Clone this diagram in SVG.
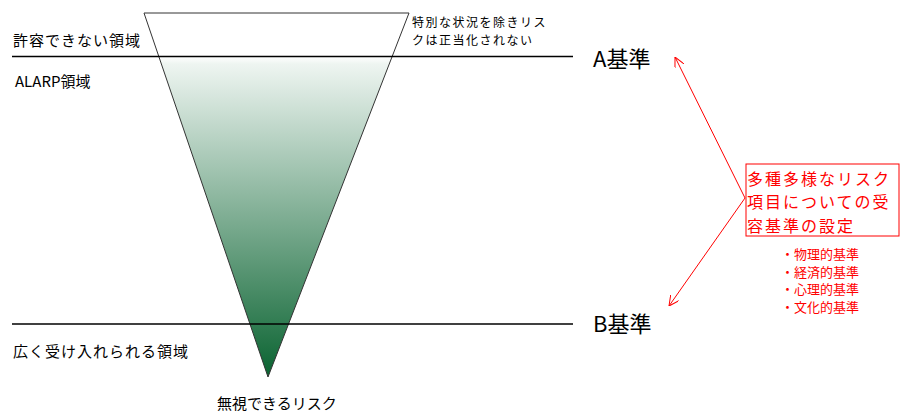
<svg xmlns="http://www.w3.org/2000/svg" width="901" height="413" viewBox="0 0 901 413">
<style>
.t{font-family:"Noto Sans CJK JP","Liberation Sans",sans-serif;fill:#000}
.r{font-family:"Noto Sans CJK JP","Liberation Sans",sans-serif;fill:#ff0000}
.ln{stroke:#000;stroke-width:1.3;fill:none}
.ra{stroke:#ff0000;stroke-width:1;fill:none;marker-end:url(#ah)}
</style>
<defs>
<linearGradient id="g" x1="0" y1="13" x2="0" y2="377" gradientUnits="userSpaceOnUse">
<stop offset="0" stop-color="#ffffff"/>
<stop offset="0.12" stop-color="#ffffff"/>
<stop offset="0.14" stop-color="#eef5f1"/>
<stop offset="1" stop-color="#0a6331"/>
</linearGradient>
<marker id="ah" viewBox="0 0 10 10" refX="10" refY="5" markerWidth="10" markerHeight="10" markerUnits="userSpaceOnUse" orient="auto">
<path d="M0,0 L10,5 L0,10" fill="none" stroke="#ff0000" stroke-width="1"/>
</marker>
</defs>
<g id="triangle">
<polygon points="144,13 409,13 268,377" fill="url(#g)" stroke="#333" stroke-width="1"/>
</g>
<g id="lines">
<line class="ln" x1="12" y1="56.5" x2="573" y2="56.5"/>
<line class="ln" x1="12" y1="324" x2="573" y2="324"/>
</g>
<g id="labels">
<text class="t" x="13" y="46" font-size="15" letter-spacing="1">許容できない領域</text>
<text class="t" x="15" y="87" font-size="15">ALARP領域</text>
<text class="t" x="13" y="357" font-size="15" letter-spacing="1">広く受け入れられる領域</text>
<text class="t" x="217" y="409" font-size="15">無視できるリスク</text>
<text class="t" x="412" y="27" font-size="12" letter-spacing="1.5">特別な状況を除きリス</text>
<text class="t" x="412" y="45" font-size="12" letter-spacing="1.5">クは正当化されない</text>
<text class="t" x="593" y="67" font-size="22">A基準</text>
<text class="t" x="593" y="332" font-size="22">B基準</text>
</g>
<g id="connectors">
<line class="ra" x1="745" y1="198" x2="675" y2="57"/>
<line class="ra" x1="745" y1="198" x2="669" y2="306"/>
</g>
<g id="box">
<rect x="746" y="164" width="153" height="72" fill="#fff" stroke="#ff0000" stroke-width="1"/>
<text class="r" x="747" y="184.5" font-size="16" letter-spacing="2">多種多様なリスク</text>
<text class="r" x="747" y="208" font-size="16" letter-spacing="2">項目についての受</text>
<text class="r" x="747" y="231.5" font-size="16" letter-spacing="2">容基準の設定</text>
</g>
<g id="list">
<text class="r" x="781" y="259" font-size="13">・物理的基準</text>
<text class="r" x="781" y="276.5" font-size="13">・経済的基準</text>
<text class="r" x="781" y="294" font-size="13">・心理的基準</text>
<text class="r" x="781" y="311.5" font-size="13">・文化的基準</text>
</g>
</svg>
